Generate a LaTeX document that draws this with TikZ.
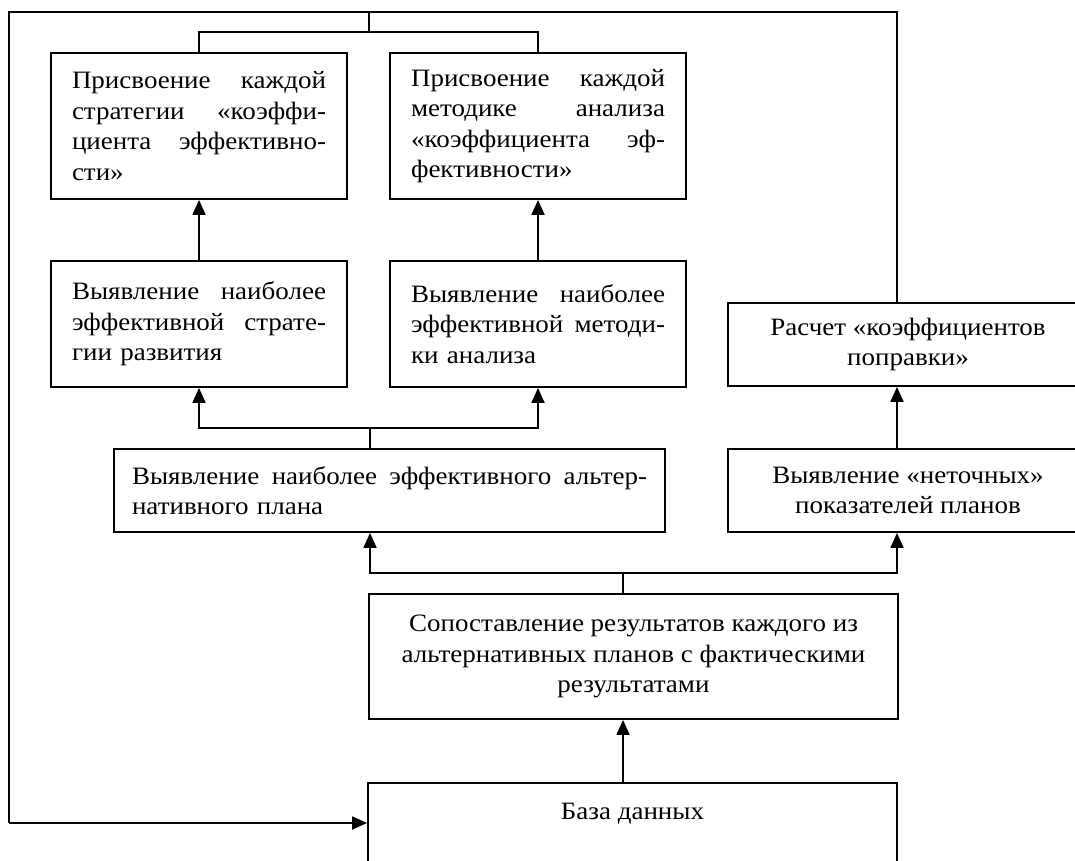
\documentclass[tikz,border=0pt]{standalone}
\usepackage{fontspec}
\setmainfont{Liberation Serif}[FakeStretch=1.08]
\usetikzlibrary{arrows.meta}
\newcommand{\jl}[2][254pt]{\leavevmode\hbox to #1{#2}}
\begin{document}
\begin{tikzpicture}[x=1pt,y=-1pt,
  box/.style={draw, line width=1.8pt, inner sep=0pt, font=\fontsize{25}{30.5}\selectfont},
  jbox/.style={box, minimum width=296pt, text width=254pt, align=left},
  cbox/.style={box, align=center},
  line/.style={line width=1.8pt},
  arr/.style={line width=1.8pt, -{Triangle[length=15pt,width=13pt]}}]
\useasboundingbox (0,0) rectangle (1075,861);
\clip (0,0) rectangle (1075,861);
\fill[white] (0,0) rectangle (1075,861);

% boxes
\node[jbox, minimum height=146pt] (b1) at (199,126)
  {\jl{Присвоение\hfill каждой}\\\jl{стратегии\hfill «коэффи-}\\\jl{циента\hfill эффективно-}\\сти»};
\node[jbox, minimum height=146pt] (b2) at (538,126)
  {\jl{Присвоение\hfill каждой}\\\jl{методике\hfill анализа}\\\jl{«коэффициента\hfill эф-}\\фективности»};
\node[jbox, minimum height=126pt] (b3) at (199,324)
  {\jl{Выявление\hfill наиболее}\\\jl{эффективной\hfill страте-}\\гии развития};
\node[jbox, minimum height=126pt] (b4) at (538,324)
  {\jl{Выявление\hfill наиболее}\\\jl{эффективной\hfill методи-}\\ки анализа};
\node[cbox, minimum width=360pt, minimum height=83pt] (b5) at (908,344.5)
  {Расчет «коэффициентов\\поправки»};
\node[box, minimum width=551pt, text width=515pt, align=left, minimum height=83pt] (b6) at (389.5,490.5)
  {\jl[515pt]{Выявление\hfill наиболее\hfill эффективного\hfill альтер-}\\нативного плана};
\node[cbox, minimum width=360pt, minimum height=83pt] (b7) at (908,490.5)
  {Выявление «неточных»\\показателей планов};
\node[cbox, minimum width=529pt, minimum height=125pt] (b8) at (633.5,656.5)
  {Сопоставление результатов каждого из\\альтернативных планов с фактическими\\результатами};
\node[cbox, anchor=north, minimum width=529pt, text height=37pt, text depth=110pt] (b9) at (632.5,782)
  {База данных};

% helper coordinates
\coordinate (tl) at (9,12);
\coordinate (tr) at (897,12);
\coordinate (lb) at (9,823);
\coordinate (topj) at (369,32);
\coordinate (j6) at (370,428);
\coordinate (j8) at (623,573);

% feedback frame
\draw[line] (b5.north -| tr) -- (tr) -- (tl) -- (lb);
\draw[arr] (lb) -- (lb -| b9.west);
\draw[line] (tl -| topj) -- (topj);
\draw[line] (b1.north) |- (topj) -| (b2.north);

% upward arrows
\draw[arr] (b3.north) -- (b1.south);
\draw[arr] (b4.north) -- (b2.south);
\draw[line] (b6.north -| j6) -- (j6);
\draw[arr] (j6) -| (b3.south);
\draw[arr] (j6) -| (b4.south);
\draw[arr] (b7.north -| tr) -- (b5.south -| tr);
\draw[line] (b8.north -| j8) -- (j8);
\draw[arr] (j8) -| (b6.south -| j6);
\draw[arr] (j8) -| (b7.south -| tr);
\draw[arr] (b9.north -| j8) -- (b8.south -| j8);
\end{tikzpicture}
\end{document}
